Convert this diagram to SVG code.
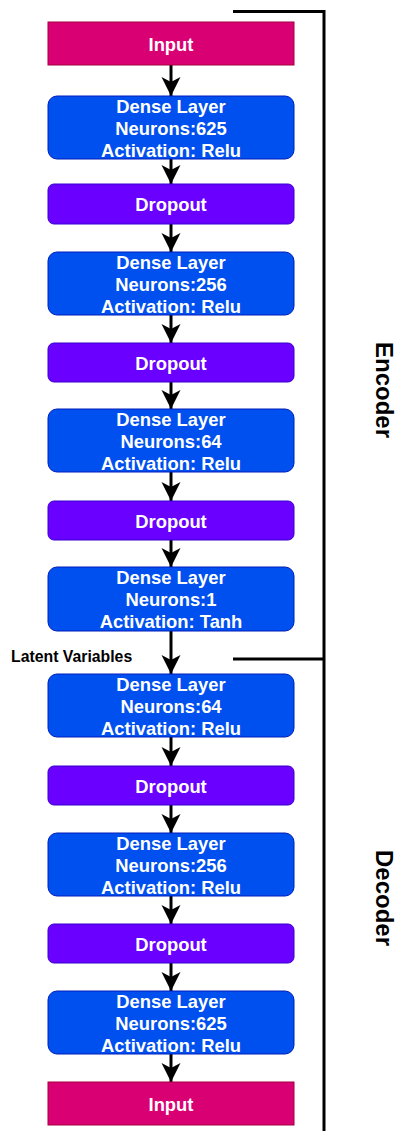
<svg xmlns="http://www.w3.org/2000/svg" width="398" height="1131" viewBox="0 0 398 1131">
<style>
.inp{fill:#d80073;stroke:#A50040;stroke-width:1}
.dense{fill:#0050ef;stroke:#001DBC;stroke-width:1}
.drop{fill:#6a00ff;stroke:#3700CC;stroke-width:1}
.t{font-family:"Liberation Sans",Arial,sans-serif;font-weight:bold;font-size:18.4px;fill:#ffffff;text-anchor:middle}
.lab{font-family:"Liberation Sans",Arial,sans-serif;font-weight:bold;fill:#000000}
.edge{stroke:#000;stroke-width:3;fill:none}
.br{stroke:#000;stroke-width:3;fill:none}
</style>
<defs>
<marker id="ah" markerUnits="userSpaceOnUse" markerWidth="20" markerHeight="20" refX="19" refY="10" orient="auto" viewBox="0 0 20 20">
<path d="M0,0.5 L19,10 L0,19.5 L5,10 Z" fill="#000"/>
</marker>
</defs>
<rect width="398" height="1131" fill="#ffffff"/>
<g id="connectors">
<line class="edge" x1="171" y1="65" x2="171" y2="96" marker-end="url(#ah)"/>
<line class="edge" x1="171" y1="159" x2="171" y2="184" marker-end="url(#ah)"/>
<line class="edge" x1="171" y1="224" x2="171" y2="252" marker-end="url(#ah)"/>
<line class="edge" x1="171" y1="315" x2="171" y2="343" marker-end="url(#ah)"/>
<line class="edge" x1="171" y1="382" x2="171" y2="409" marker-end="url(#ah)"/>
<line class="edge" x1="171" y1="472" x2="171" y2="501" marker-end="url(#ah)"/>
<line class="edge" x1="171" y1="540" x2="171" y2="567" marker-end="url(#ah)"/>
<line class="edge" x1="171" y1="631" x2="171" y2="674" marker-end="url(#ah)"/>
<line class="edge" x1="171" y1="737" x2="171" y2="766" marker-end="url(#ah)"/>
<line class="edge" x1="171" y1="805" x2="171" y2="833" marker-end="url(#ah)"/>
<line class="edge" x1="171" y1="896" x2="171" y2="924" marker-end="url(#ah)"/>
<line class="edge" x1="171" y1="963" x2="171" y2="991" marker-end="url(#ah)"/>
<line class="edge" x1="171" y1="1054" x2="171" y2="1082" marker-end="url(#ah)"/>
</g>
<g id="bracket">
<path class="br" d="M233,11.5 H324 V1131"/>
<path class="br" d="M233,659 H324"/>
</g>
<g id="input1"><rect class="inp" x="48" y="22" width="246" height="43"/><text class="t" x="171" y="50.5">Input</text></g>
<g id="dense1"><rect class="dense" x="48" y="96" width="246" height="63" rx="9"/><text class="t" x="171" y="112.7">Dense Layer</text><text class="t" x="171" y="135">Neurons:625</text><text class="t" x="171" y="156.7">Activation: Relu</text></g>
<g id="dropout1"><rect class="drop" x="48" y="184" width="246" height="40" rx="6"/><text class="t" x="171" y="211">Dropout</text></g>
<g id="dense2"><rect class="dense" x="48" y="252" width="246" height="63" rx="9"/><text class="t" x="171" y="268.7">Dense Layer</text><text class="t" x="171" y="291">Neurons:256</text><text class="t" x="171" y="312.7">Activation: Relu</text></g>
<g id="dropout2"><rect class="drop" x="48" y="343" width="246" height="39" rx="6"/><text class="t" x="171" y="369.5">Dropout</text></g>
<g id="dense3"><rect class="dense" x="48" y="409" width="246" height="63" rx="9"/><text class="t" x="171" y="425.7">Dense Layer</text><text class="t" x="171" y="448">Neurons:64</text><text class="t" x="171" y="469.7">Activation: Relu</text></g>
<g id="dropout3"><rect class="drop" x="48" y="501" width="246" height="39" rx="6"/><text class="t" x="171" y="527.5">Dropout</text></g>
<g id="dense4"><rect class="dense" x="48" y="567" width="246" height="64" rx="9"/><text class="t" x="171" y="583.7">Dense Layer</text><text class="t" x="171" y="606">Neurons:1</text><text class="t" x="171" y="627.7">Activation: Tanh</text></g>
<g id="latent"><text class="lab" x="11" y="661.7" font-size="15.8">Latent Variables</text></g>
<g id="dense5"><rect class="dense" x="48" y="674" width="246" height="63" rx="9"/><text class="t" x="171" y="690.7">Dense Layer</text><text class="t" x="171" y="713">Neurons:64</text><text class="t" x="171" y="734.7">Activation: Relu</text></g>
<g id="dropout4"><rect class="drop" x="48" y="766" width="246" height="39" rx="6"/><text class="t" x="171" y="792.5">Dropout</text></g>
<g id="dense6"><rect class="dense" x="48" y="833" width="246" height="63" rx="9"/><text class="t" x="171" y="849.7">Dense Layer</text><text class="t" x="171" y="872">Neurons:256</text><text class="t" x="171" y="893.7">Activation: Relu</text></g>
<g id="dropout5"><rect class="drop" x="48" y="924" width="246" height="39" rx="6"/><text class="t" x="171" y="950.5">Dropout</text></g>
<g id="dense7"><rect class="dense" x="48" y="991" width="246" height="63" rx="9"/><text class="t" x="171" y="1007.7">Dense Layer</text><text class="t" x="171" y="1030">Neurons:625</text><text class="t" x="171" y="1051.7">Activation: Relu</text></g>
<g id="input2"><rect class="inp" x="48" y="1082" width="246" height="43"/><text class="t" x="171" y="1110.5">Input</text></g>
<g id="encoder"><text class="lab" font-size="24" text-anchor="middle" transform="translate(376,390) rotate(90)">Encoder</text></g>
<g id="decoder"><text class="lab" font-size="24" text-anchor="middle" transform="translate(376,898) rotate(90)">Decoder</text></g>
</svg>
